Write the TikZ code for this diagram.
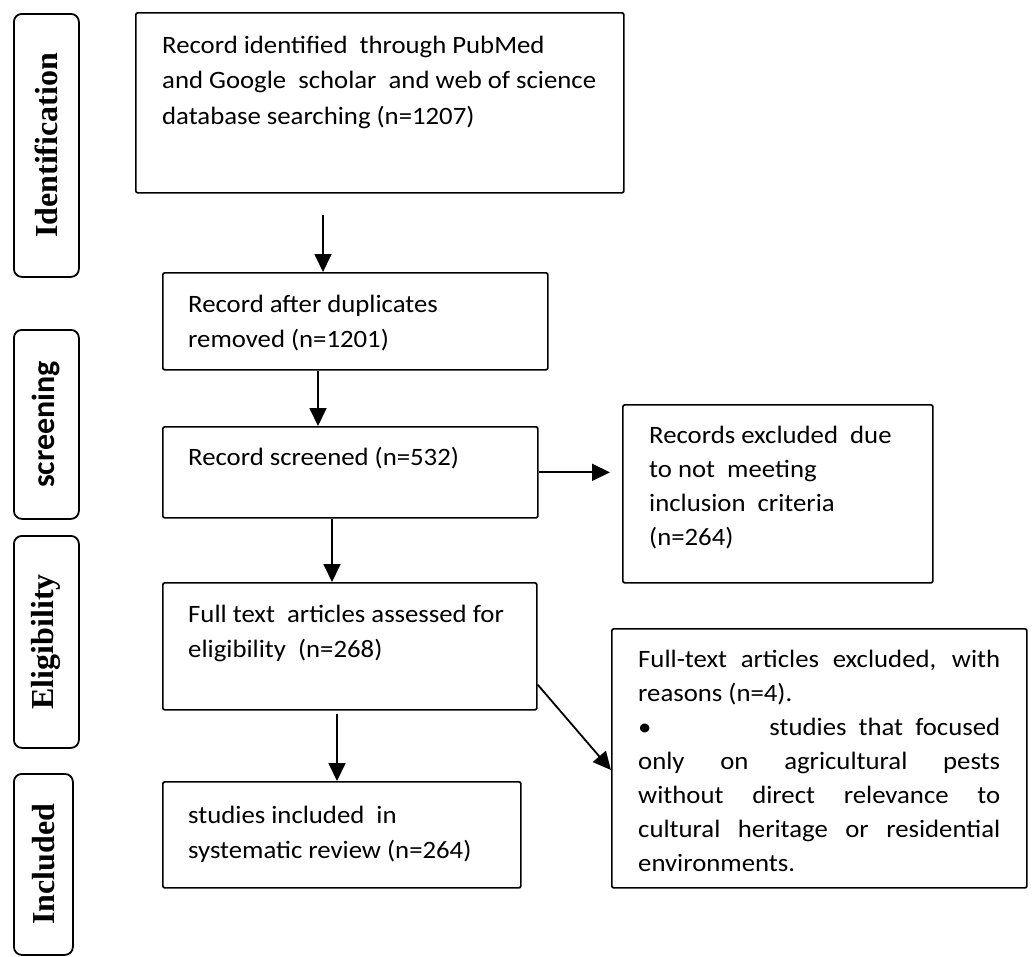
\documentclass[tikz,border=0pt]{standalone}
\usepackage{fontspec}
\setmainfont[FakeStretch=1.07]{Carlito}
\newfontfamily\labelserif{Liberation Serif}
\newfontfamily\labelsans{Carlito}
\usetikzlibrary{arrows.meta}
\newcommand{\maintext}{\fontsize{25}{35.5}\selectfont}
\newcommand{\sidetext}{\fontsize{25}{34}\selectfont}
\newcommand{\sidelabel}{\labelserif\bfseries\fontsize{32}{36}\selectfont}
\newcommand{\sidelabelsans}{\labelsans\bfseries\fontsize{32}{36}\selectfont}
\begin{document}
\begin{tikzpicture}[x=1pt,y=-1pt,
  box/.style={draw, line width=1.7pt, rounded corners=2pt, inner sep=0pt, anchor=north west},
  side/.style={draw, line width=1.8pt, rounded corners=8pt, inner sep=0pt, anchor=north west},
  arr/.style={line width=1.8pt, -{Triangle[length=18pt,width=17pt]}},
  txt/.style={anchor=base west, inner sep=0pt},
]
\useasboundingbox (0,0) rectangle (1033,956);

% side labels
\node[side, minimum width=65pt, minimum height=263pt] (s1) at (13,13) {\rotatebox{90}{\sidelabel Identification}};
\node[side, minimum width=65pt, minimum height=189pt] (s2) at (13,329) {\rotatebox{90}{\sidelabelsans screening}};
\node[side, minimum width=65pt, minimum height=212pt] (s3) at (13,535) {\rotatebox{90}{\sidelabel Eligibility}};
\node[side, minimum width=59pt, minimum height=181pt] (s4) at (13,773) {\rotatebox{90}{\sidelabel Included}};

% boxes
\node[box, minimum width=488pt, minimum height=180pt] (b1) at (135,12) {};
\node[box, minimum width=385pt, minimum height=97pt] (b2) at (162,272) {};
\node[box, minimum width=375pt, minimum height=91pt] (b3) at (162,426) {};
\node[box, minimum width=310pt, minimum height=178pt] (b4) at (622,404) {};
\node[box, minimum width=374pt, minimum height=127pt] (b5) at (162,582) {};
\node[box, minimum width=358pt, minimum height=106pt] (b6) at (162,781) {};
\node[box, minimum width=415pt, minimum height=259pt] (b7) at (611,628) {};

% texts
\node[txt] (t1) at (162,53) {\parbox[t]{455pt}{\maintext Record identified\ \ through PubMed\\and Google\ \ scholar\ \ and web of science\\database searching (n=1207)}};
\node[txt] (t2) at (188,312) {\parbox[t]{350pt}{\maintext Record after duplicates\\removed (n=1201)}};
\node[txt] (t3) at (188,465) {\parbox[t]{340pt}{\maintext Record screened (n=532)}};
\node[txt] (t4) at (649,443) {\parbox[t]{275pt}{\sidetext Records excluded\ \ due\\to not\ \ meeting\\inclusion\ \ criteria\\(n=264)}};
\node[txt] (t5) at (188,622) {\parbox[t]{340pt}{\maintext Full text\ \ articles assessed for\\eligibility\ \ (n=268)}};
\node[txt] (t6) at (188,823) {\parbox[t]{320pt}{\maintext studies included\ \ in\\systematic review (n=264)}};
\node[txt] (t7) at (638,667) {\parbox[t]{362pt}{\sidetext
\makebox[362pt][s]{Full-text articles excluded, with}\\
reasons (n=4).\\
\makebox[362pt][s]{\textbullet\hfill studies\ \ that\ \ focused}\\
\makebox[362pt][s]{only on agricultural pests}\\
\makebox[362pt][s]{without direct relevance to}\\
\makebox[362pt][s]{cultural heritage or residential}\\
environments.}};

% arrows
\draw[arr] ([xshift=188pt,yshift=-21pt]b1.south west) -- ([xshift=161pt]b2.north west);
\draw[arr] ([xshift=156pt]b2.south west) -- ([xshift=156pt]b3.north west);
\draw[arr] (b3.east) -- ([xshift=-12pt]b4.west |- b3.east);
\draw[arr] ([xshift=170pt]b3.south west) -- ([xshift=170pt]b5.north west);
\draw[arr] ([xshift=175pt,yshift=-3pt]b5.south west) -- ([xshift=175pt]b6.north west);
\draw[arr] ([yshift=26pt]b5.south east) -- ([yshift=-142pt]b7.north west);
\end{tikzpicture}
\end{document}
